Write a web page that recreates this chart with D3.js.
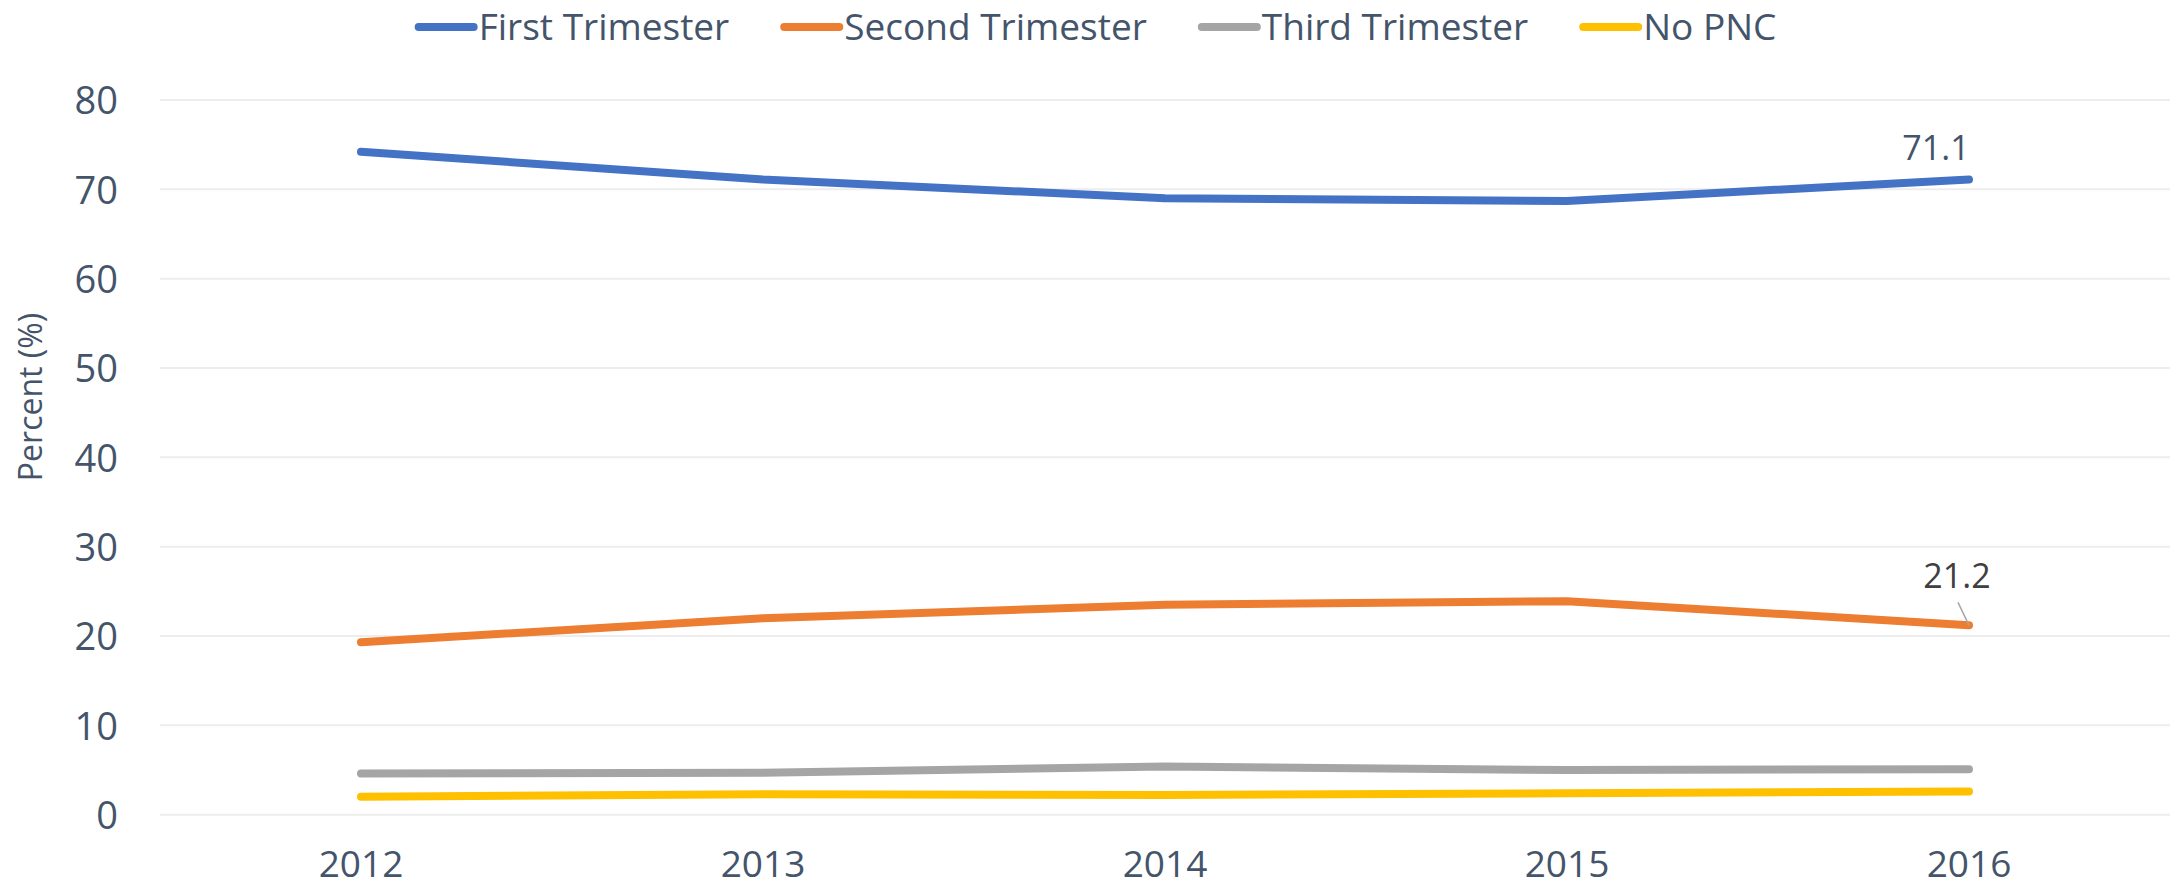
<!DOCTYPE html>
<html>
<head>
<meta charset="utf-8">
<script src="https://cdn.jsdelivr.net/npm/d3@7"></script>
<style>
  html, body { margin: 0; padding: 0; background: #fff; }
  svg { display: block; font-family: "Open Sans", sans-serif; }
</style>
</head>
<body>
<svg id="chart" width="2170" height="888"></svg>
<script>
const years = ["2012", "2013", "2014", "2015", "2016"];
const seriesNames = ["First Trimester", "Second Trimester", "Third Trimester", "No PNC"];
const firstTrimester = [74.2, 71.1, 69.0, 68.7, 71.1];
const secondTrimester = [19.3, 22.0, 23.5, 23.9, 21.2];
const thirdTrimester = [4.6, 4.7, 5.4, 5.0, 5.1];
const noPNC = [2.0, 2.3, 2.2, 2.4, 2.6];
const yTicks = [0, 10, 20, 30, 40, 50, 60, 70, 80];
const colors = ["#4472C4", "#ED7D31", "#A5A5A5", "#FFC000"];

const seriesValues = [firstTrimester, secondTrimester, thirdTrimester, noPNC];
const series = seriesNames.map((name, i) => ({ name, color: colors[i], values: seriesValues[i] }));

const svg = d3.select("#chart");
const textColor = "#44546A";

const x = d3.scaleBand().domain(years).range([160, 2170]).padding(0);
const y = d3.scaleLinear().domain([0, 80]).range([814.7, 100]);
const cx = d => x(d) + x.bandwidth() / 2;

// gridlines
svg.append("g").selectAll("line").data(yTicks).join("line")
  .attr("x1", 160).attr("x2", 2170)
  .attr("y1", d => y(d)).attr("y2", d => y(d))
  .attr("stroke", "#EDEDED").attr("stroke-width", 2);

// y axis labels
const yAxis = svg.append("g").attr("transform", "translate(118,0)")
  .call(d3.axisLeft(y).tickValues(yTicks).tickSize(0).tickPadding(0));
yAxis.select(".domain").remove();
yAxis.selectAll("text").attr("font-size", 38).attr("fill", textColor)
  .attr("font-family", "Open Sans").attr("dy", "0.36em");

// x axis labels
const xAxis = svg.append("g").attr("transform", "translate(0,877)")
  .call(d3.axisBottom(x).tickSize(0).tickPadding(0));
xAxis.select(".domain").remove();
xAxis.selectAll("text").attr("font-size", 37).attr("fill", textColor)
  .attr("font-family", "Open Sans").attr("dy", "0");

// y axis title
svg.append("text")
  .attr("transform", "translate(42,397) rotate(-90)")
  .attr("text-anchor", "middle")
  .attr("font-size", 32).attr("fill", textColor)
  .text("Percent (%)");

// lines
const line = d3.line().x((d, i) => cx(years[i])).y(d => y(d));
svg.append("g").selectAll("path").data(series).join("path")
  .attr("d", d => line(d.values))
  .attr("fill", "none")
  .attr("stroke", d => d.color)
  .attr("stroke-width", 8)
  .attr("stroke-linecap", "round")
  .attr("stroke-linejoin", "round");

// data labels
const lastYear = years[years.length - 1];
const px = cx(lastYear);
svg.append("text")
  .attr("x", px - 33).attr("y", y(firstTrimester[4]) - 20)
  .attr("text-anchor", "middle").attr("font-size", 34).attr("fill", textColor)
  .text(firstTrimester[4].toFixed(1));
svg.append("line")
  .attr("x1", px - 11).attr("y1", y(secondTrimester[4]) - 23)
  .attr("x2", px).attr("y2", y(secondTrimester[4]))
  .attr("stroke", "#A6A6A6").attr("stroke-width", 1.5);
svg.append("text")
  .attr("x", px - 12).attr("y", y(secondTrimester[4]) - 37)
  .attr("text-anchor", "middle").attr("font-size", 34).attr("fill", "#404040")
  .text(secondTrimester[4].toFixed(1));

// legend
const legend = svg.append("g");
const items = legend.selectAll("g").data(series).join("g");
items.append("line")
  .attr("x1", 0).attr("x2", 55).attr("y1", 0).attr("y2", 0)
  .attr("stroke", d => d.color).attr("stroke-width", 8).attr("stroke-linecap", "round");
items.append("text")
  .attr("x", 60).attr("y", 0).attr("dy", "0.35em")
  .attr("font-size", 37).attr("fill", textColor)
  .text(d => d.name);
const widths = [];
items.each(function() {
  const w = d3.select(this).select("text").node().getComputedTextLength();
  widths.push(60 + w);
});
const gap = 55;
const total = d3.sum(widths) + gap * (widths.length - 1);
let startX = 1097.5 - total / 2;
items.attr("transform", (d, i) => {
  const t = `translate(${startX},27)`;
  startX += widths[i] + gap;
  return t;
});
</script>
</body>
</html>
